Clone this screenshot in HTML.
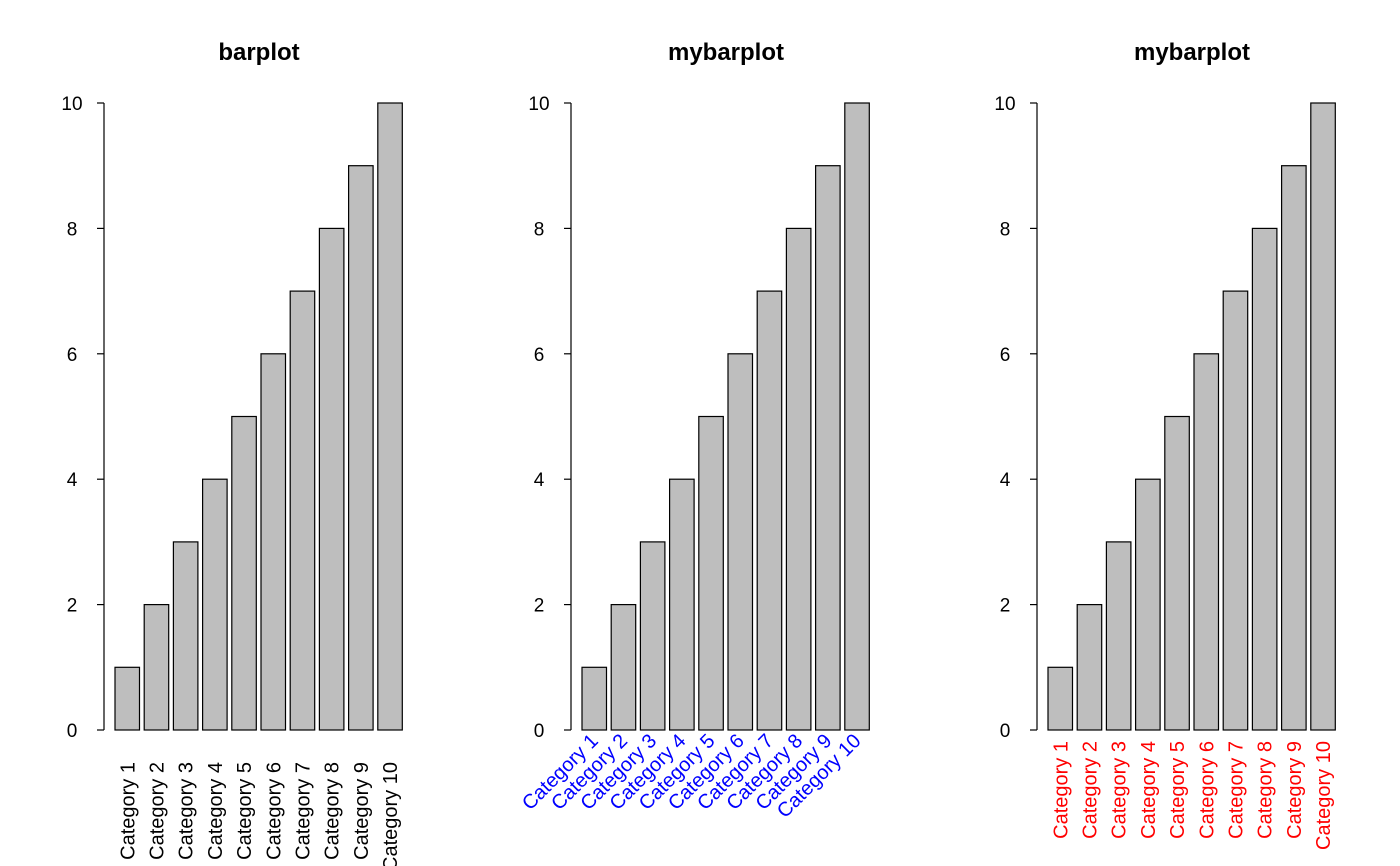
<!DOCTYPE html>
<html><head><meta charset="utf-8"><style>body{margin:0;background:#fff}svg{display:block}text{font-family:"Liberation Sans",sans-serif}</style></head>
<body>
<svg id="c" width="1400" height="866"></svg>
<script>
const categories=["Category 1","Category 2","Category 3","Category 4","Category 5","Category 6","Category 7","Category 8","Category 9","Category 10"];
const values=[1,2,3,4,5,6,7,8,9,10];
const yTicks=[0,2,4,6,8,10];
const titles=["barplot","mybarplot","mybarplot"];
const NS="http://www.w3.org/2000/svg";
const svg=document.getElementById("c");
function mk(t,a,p){const e=document.createElementNS(NS,t);for(const k in a)e.setAttribute(k,a[k]);(p||svg).appendChild(e);return e;}
const y0=730,y10=103;
function ys(v){return y0-(v/10)*(y0-y10);}
const offsets=[0,467,933];
offsets.forEach((o,pi)=>{
  const g=mk("g",{});
  
  
  const axX=104+o;
  function xs(i){return 115+o+i*29.2;}
  const t=mk("text",{x:259+o,y:60,"text-anchor":"middle","font-size":"24","font-weight":"bold"},g);
  t.textContent=titles[pi];
  
  
  const ax=mk("path",{d:`M${axX} ${ys(0)}V${ys(10)}`,stroke:"#000","stroke-width":"1.2",fill:"none"},g);
  
  
  yTicks.forEach(v=>{
    const tk=mk("path",{d:`M${axX-7} ${ys(v)}H${axX}`,stroke:"#000","stroke-width":"1.2"},g);
    
    
    const tl=mk("text",{x:axX-32,y:ys(v)+7,"text-anchor":"middle","font-size":"19"},g);
    tl.textContent=v;
    
    
  });
  values.forEach((v,i)=>{
    const r=mk("rect",{x:xs(i),y:ys(v),width:24.5,height:ys(0)-ys(v),fill:"#bebebe",stroke:"#000","stroke-width":"1.2"},g);
    
    
    const cx=xs(i)+12.25;
    let l;
    if(pi===0){l=mk("text",{transform:`translate(${cx+7},762) rotate(-90)`,"text-anchor":"end","font-size":"20",fill:"#000"},g);}
    else if(pi===1){l=mk("text",{transform:`translate(${cx+5},742) rotate(-45)`,"text-anchor":"end","font-size":"20",fill:"#0000ff"},g);}
    else {l=mk("text",{transform:`translate(${cx+7},741) rotate(-90)`,"text-anchor":"end","font-size":"20",fill:"#ff0000"},g);}
    l.textContent=categories[i];
    
    
  });
});
</script>
</body></html>
